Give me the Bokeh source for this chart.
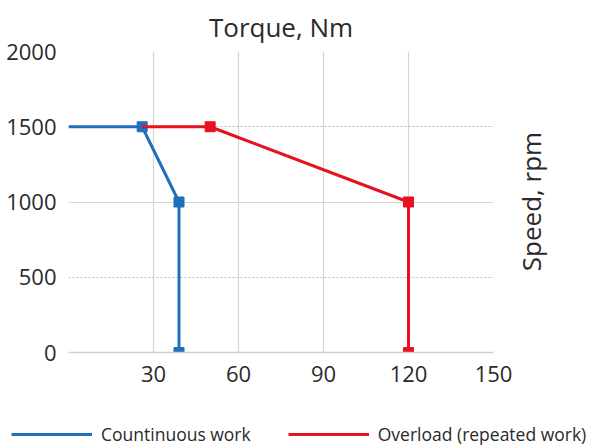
import math
from bokeh.plotting import figure
from bokeh.layouts import column, row
from bokeh.models import Range1d, FixedTicker, Legend, LegendItem, Grid, Label
from bokeh.embed import file_html
from bokeh.resources import INLINE

# ---- data ----
torque_ticks = [30, 60, 90, 120, 150]
torque_grid = [0, 30, 60, 90, 120, 150]
speed_ticks = [0, 500, 1000, 1500, 2000]
speed_dashed = [500, 1500, 2000]
speed_solid = [1000]

cont_torque = [0, 26, 39, 39]
cont_speed = [1500, 1500, 1000, 0]
over_torque = [26, 50, 120, 120]
over_speed = [1500, 1500, 1000, 0]

title_text = "Torque, Nm"
ylabel_text = "Speed, rpm"
cont_label = "Countinuous work"
over_label = "Overload (repeated work)"

BLUE = "#1f6fba"
RED = "#e5121f"
FONT = "Open Sans"
TXT = "#2a2a2a"

x_start, x_end = 0, 150
y_start, y_end = 0, 2000


def bare(fig):
    fig.outline_line_color = None
    fig.xgrid.visible = False
    fig.ygrid.visible = False
    fig.frame_align = False
    fig.background_fill_color = "white"
    fig.border_fill_color = "white"


# ---- main chart ----
p = figure(width=513, height=398, output_backend="svg", toolbar_location=None,
           x_range=Range1d(x_start, x_end), y_range=Range1d(y_start, y_end),
           min_border_left=68, min_border_right=20, min_border_top=50,
           min_border_bottom=46)
p.outline_line_color = None
p.background_fill_color = "white"
p.border_fill_color = "white"
p.frame_align = False

p.title.text = title_text
p.title.align = "center"
p.title.offset = 10
p.title.text_font = FONT
p.title.text_font_size = "26px"
p.title.text_font_style = "normal"
p.title.text_color = TXT
p.title.standoff = 13

p.xaxis.ticker = FixedTicker(ticks=torque_ticks)
p.yaxis.ticker = FixedTicker(ticks=speed_ticks)
for ax in (p.xaxis, p.yaxis):
    ax.major_tick_line_color = None
    ax.minor_tick_line_color = None
    ax.major_label_text_font = FONT
    ax.major_label_text_font_size = "22px"
    ax.major_label_text_color = TXT
p.xaxis.major_label_standoff = 7
p.yaxis.major_label_standoff = 6
p.xaxis.axis_line_color = "#d0d0d0"
p.xaxis.axis_line_width = 1.5
p.yaxis.axis_line_color = None

p.xgrid.ticker = FixedTicker(ticks=torque_grid)
p.xgrid.grid_line_color = "#d6d6d6"
p.xgrid.grid_line_width = 1.2
p.ygrid.ticker = FixedTicker(ticks=speed_dashed)
p.ygrid.grid_line_color = "#bdbdbd"
p.ygrid.grid_line_dash = "2 2"
p.ygrid.grid_line_width = 1
p.add_layout(Grid(dimension=1, ticker=FixedTicker(ticks=speed_solid),
                  grid_line_color="#d6d6d6", grid_line_width=1.2))

p.line(cont_torque, cont_speed, line_color=BLUE, line_width=3)
p.scatter(cont_torque[1:], cont_speed[1:], marker="square", size=10,
          fill_color=BLUE, line_color=BLUE)
p.line(over_torque, over_speed, line_color=RED, line_width=3)
p.scatter(over_torque[1:], over_speed[1:], marker="square", size=10,
          fill_color=RED, line_color=RED)

# ---- right-hand axis title strip ----
side = figure(width=87, height=398, output_backend="svg", toolbar_location=None,
              x_range=Range1d(0, 87), y_range=Range1d(y_start, y_end),
              x_axis_location=None, y_axis_location=None,
              min_border_left=0, min_border_right=0, min_border_top=50,
              min_border_bottom=46)
bare(side)
side.add_layout(Label(x=17, y=(y_start + y_end) / 2, text=ylabel_text,
                      angle=math.pi / 2, text_align="center",
                      text_baseline="middle", text_font=FONT,
                      text_font_size="26px", text_color=TXT))

# ---- legend strip ----
lg = figure(width=600, height=48, output_backend="svg", toolbar_location=None,
            x_range=Range1d(1000, 1001), y_range=Range1d(1000, 1001),
            x_axis_location=None, y_axis_location=None,
            min_border_left=0, min_border_right=0, min_border_top=0,
            min_border_bottom=0)
bare(lg)
cl = lg.line(cont_torque, cont_speed, line_color=BLUE, line_width=3)
ol = lg.line(over_torque, over_speed, line_color=RED, line_width=3)
legend = Legend(items=[LegendItem(label=cont_label, renderers=[cl]),
                       LegendItem(label=over_label, renderers=[ol])],
                location=(11, 0), orientation="horizontal",
                glyph_width=81, glyph_height=20, label_standoff=9, spacing=37,
                padding=0, margin=0, border_line_color=None,
                background_fill_alpha=0, label_text_font=FONT,
                label_text_font_size="17.5px", label_text_color=TXT)
lg.add_layout(legend)

layout = column(row(p, side, spacing=0), lg, spacing=0)
open("out.html", "w").write(file_html(layout, INLINE))
